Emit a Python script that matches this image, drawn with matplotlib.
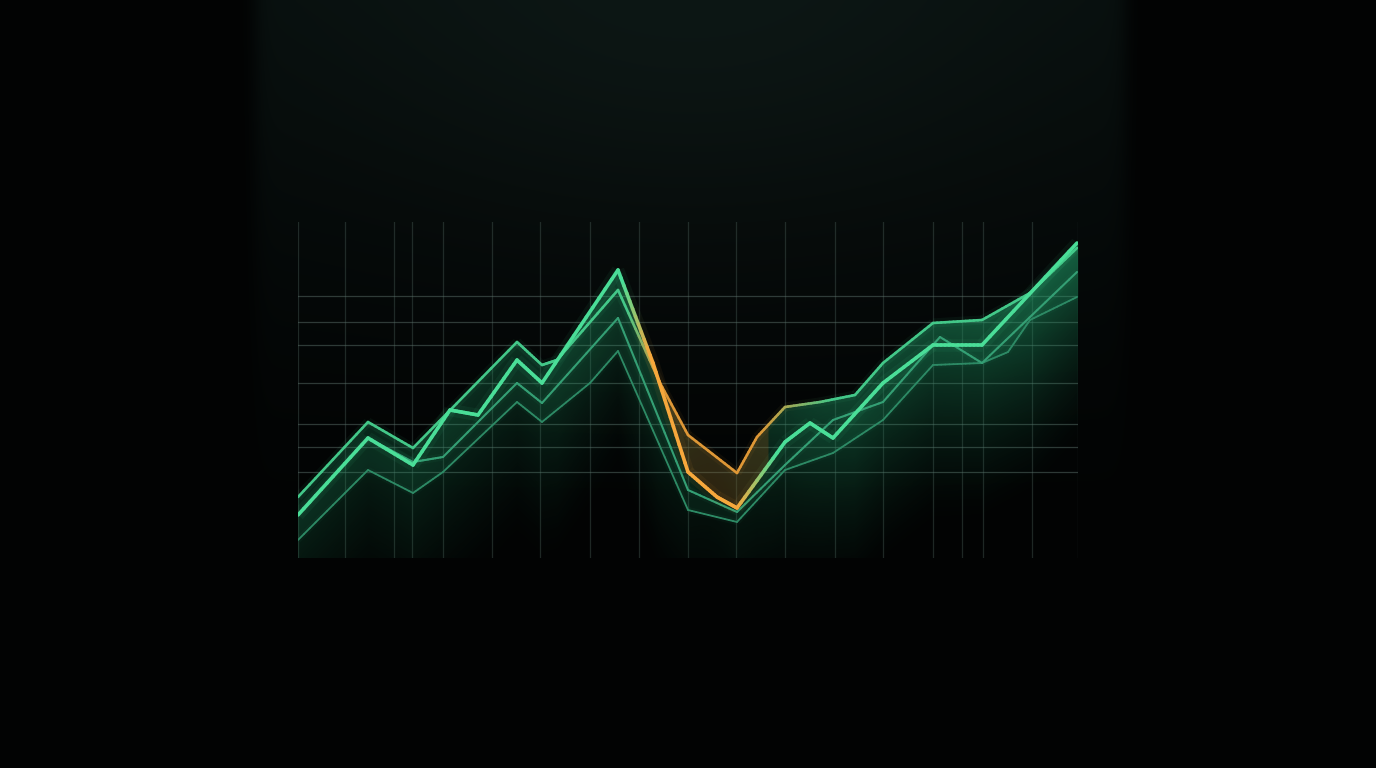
import numpy as np
import matplotlib.pyplot as plt
from matplotlib.collections import LineCollection
from matplotlib.colors import to_rgb

# grid positions (chart units, x 0..780, y 0..336)
grid_x = [0, 47, 96, 114, 145, 194, 242, 292, 341, 390, 438, 487, 537, 585, 635, 664, 685, 734, 780]
grid_y = [86, 111, 134, 175, 213, 236, 262]

# bright main series (thick)
main_x = [0, 70, 115, 152, 180, 219, 244, 320, 355, 390, 419, 439, 487, 512, 535, 585, 635, 684, 779]
main_y = [43, 120, 93, 148, 143, 198, 175, 288, 195, 86, 61, 50, 116, 135, 120, 175, 213, 213, 315]

# upper companion series
upper_x = [0, 70, 115, 219, 244, 259, 320, 362, 390, 439, 459, 487, 522, 557, 585, 635, 684, 732, 779]
upper_y = [61, 136, 110, 216, 193, 198, 268, 175, 123, 85, 121, 151, 156, 163, 195, 235, 238, 265, 310]

# middle series
mid_x = [0, 70, 115, 145, 219, 244, 320, 390, 439, 487, 535, 585, 642, 684, 779]
mid_y = [43, 120, 96, 101, 175, 155, 240, 68, 46, 93, 138, 156, 221, 195, 286]

# lower dim series
low_x = [0, 70, 115, 145, 219, 244, 292, 320, 390, 439, 487, 535, 585, 635, 684, 710, 732, 779]
low_y = [18, 88, 65, 86, 156, 136, 175, 207, 48, 36, 88, 105, 138, 193, 195, 206, 238, 261]

GREEN = np.array(to_rgb("#4ade98"))
GREEN_DIM = np.array(to_rgb("#38ad7e"))
ORANGE = np.array(to_rgb("#f7a83c"))

W, H = 1376, 768
fig = plt.figure(figsize=(W / 100, H / 100), dpi=100, facecolor="#020303")

# background: soft dark panel with a faint glow at the top
bg = fig.add_axes([0, 0, 1, 1])
bg.set_axis_off()
xx, yy = np.meshgrid(np.arange(W), np.arange(H))
panel = 1 / (1 + np.exp(-(xx - 255) / 5)) * 1 / (1 + np.exp((xx - 1125) / 5))
vert = np.clip(1 - yy / 580, 0, 1) ** 1.4
glow = np.exp(-(((xx - 690) / 380) ** 2 + ((yy - 30) / 230) ** 2))
base = np.array([2, 3, 3]) / 255
tint = np.array([5, 11, 10]) / 255
img = base + panel[..., None] * (vert[..., None] * tint + glow[..., None] * np.array([6, 9, 8]) / 255)
bg.imshow(np.clip(img, 0, 1), extent=(0, W, H, 0), aspect="auto")
bg.set_xlim(0, W)
bg.set_ylim(H, 0)

# chart area
ax = fig.add_axes([298 / W, (H - 558) / H, 780 / W, 336 / H])
ax.set_xlim(0, 780)
ax.set_ylim(0, 336)
ax.set_axis_off()
ax.patch.set_alpha(0)

for gx in grid_x:
    ax.plot([gx, gx], [0, 336], color="#4a5e58", lw=0.9, alpha=0.4, zorder=1)
for gy in grid_y:
    ax.plot([0, 780], [gy, gy], color="#5a6e68", lw=0.9, alpha=0.5, zorder=1)

# green glow below the line bundle
fx = np.linspace(0, 780, 781)
env = np.max([np.interp(fx, main_x, main_y), np.interp(fx, upper_x, upper_y),
              np.interp(fx, mid_x, mid_y), np.interp(fx, low_x, low_y)], axis=0)
gy_ = np.linspace(0, 336, 337)
GX, GY = np.meshgrid(fx, gy_)
ENV = np.interp(GX, fx, env)
depth = ENV - GY
alpha = np.where(depth > 0, np.clip(1 - depth / 210, 0, 1) ** 1.6, 0)
alpha *= 0.35 + 0.45 * (GX / 780) ** 1.5
dip = np.exp(-((GX - 420) / 60) ** 2)
alpha *= 1 - 0.6 * dip
rgba = np.zeros(GX.shape + (4,))
rgba[..., :3] = to_rgb("#1f9a66")
rgba[..., 3] = alpha * 0.7
ax.imshow(rgba, extent=(0, 780, 0, 336), origin="lower", aspect="auto", zorder=2)

# band between main and lower lines
lo = np.interp(fx, low_x, low_y)
hi = np.interp(fx, main_x, main_y)
ax.fill_between(fx, lo, np.maximum(hi, lo), color="#2bb77a", alpha=0.09, lw=0, zorder=2)

# orange glow in the dip
ox = fx[(fx >= 345) & (fx <= 470)]
ax.fill_between(ox, np.interp(ox, main_x, main_y), np.interp(ox, upper_x, upper_y),
                color="#a8581a", alpha=0.25, lw=0, zorder=2)


def orange_weight(x, r):
    a, b, c, d = r
    return np.clip(np.minimum((x - a) / (b - a), (d - x) / (d - c)), 0, 1)


def draw_line(x, y, color, lw, alpha, orange=None, z=4):
    segs, cols = [], []
    for i in range(len(x) - 1):
        t = np.linspace(0, 1, 13)
        px = x[i] + (x[i + 1] - x[i]) * t
        py = y[i] + (y[i + 1] - y[i]) * t
        for j in range(12):
            segs.append([(px[j], py[j]), (px[j + 1], py[j + 1])])
            w = orange_weight((px[j] + px[j + 1]) / 2, orange) if orange else 0
            # colour pre-blended with the dark background instead of alpha
            cols.append(((1 - w) * color + w * ORANGE) * alpha)
    glow_lc = LineCollection(segs, colors=cols, linewidths=lw * 3.5, alpha=0.06,
                             capstyle="butt", joinstyle="round", zorder=z - 1)
    lc = LineCollection(segs, colors=cols, linewidths=lw,
                        capstyle="round", joinstyle="round", zorder=z)
    ax.add_collection(glow_lc)
    ax.add_collection(lc)


draw_line(low_x, low_y, GREEN_DIM, 1.3, 0.8, z=4)
draw_line(mid_x, mid_y, GREEN_DIM, 1.5, 0.92, z=5)
draw_line(upper_x, upper_y, GREEN, 1.9, 0.9, orange=(330, 362, 462, 535), z=6)
draw_line(main_x, main_y, GREEN, 2.6, 1.0, orange=(325, 352, 440, 478), z=7)

fig.savefig("out.png", dpi=100, facecolor=fig.get_facecolor())
plt.close(fig)
